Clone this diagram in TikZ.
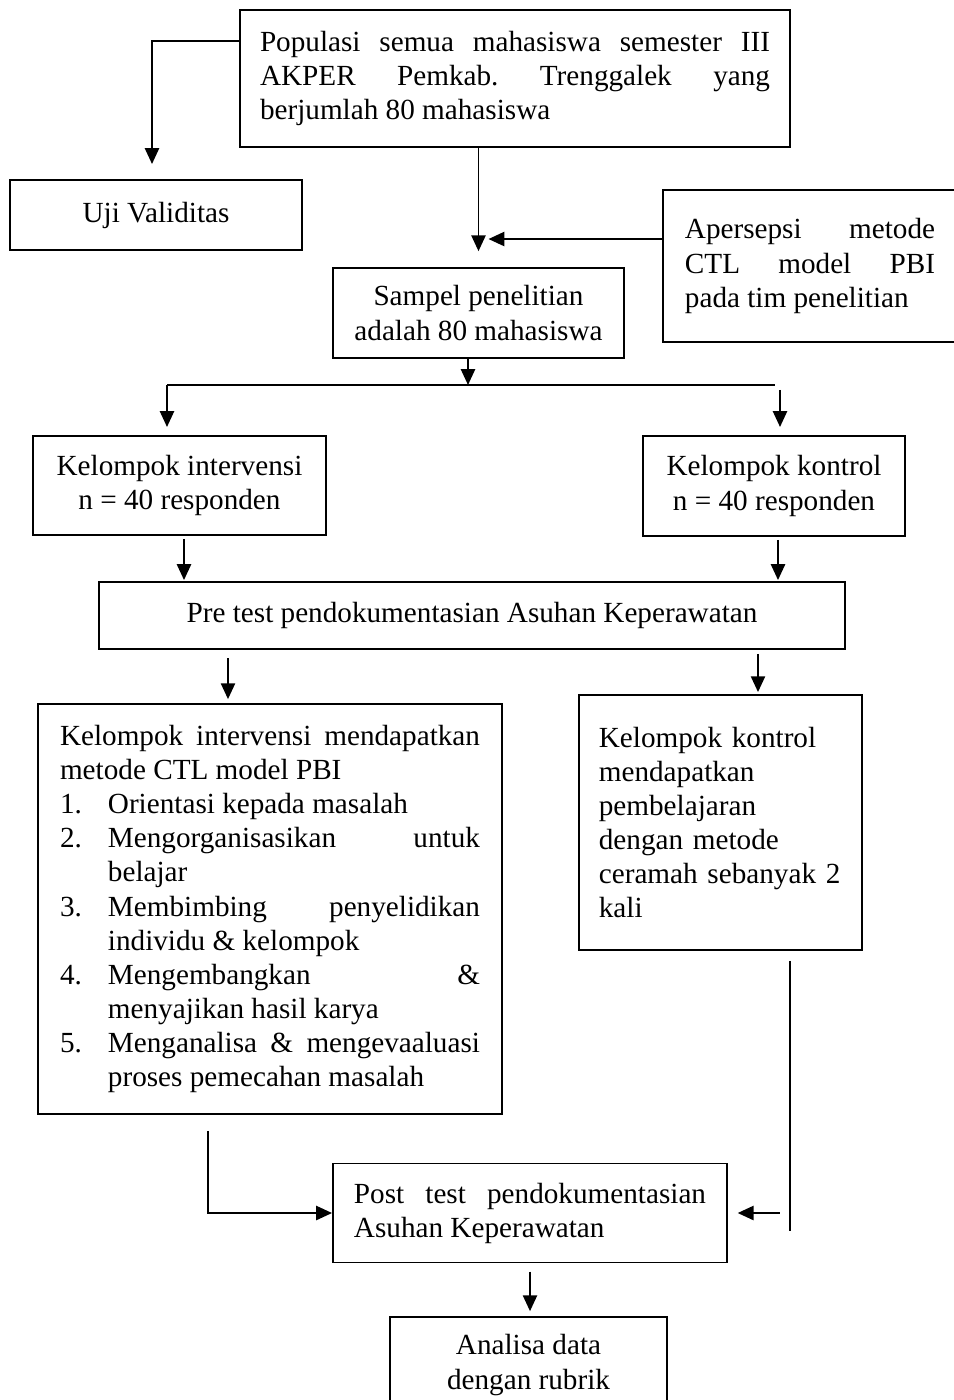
\documentclass[tikz,border=0pt]{standalone}
\usepackage{fontspec}
\setmainfont{Liberation Serif}
\usetikzlibrary{calc}
\usetikzlibrary{arrows.meta}
\frenchspacing
\hyphenpenalty=10000
\exhyphenpenalty=10000
\parindent=0pt

\tikzset{
	box/.style = {draw, line width = 0.8pt, inner sep = 0pt, font = \fontsize{12}{14}\selectfont},
	sz/.style 2 args = {minimum width = #1*0.411pt, minimum height = #2*0.411pt},
	arr/.style = {line width = 0.8pt, -{Triangle[length = 6.5pt, width = 5.8pt]}}
}

\begin{document}
\begin{tikzpicture}[x = 0.411pt, y = -0.411pt]
	\useasboundingbox (0, 0) rectangle (954, 1400);
	\node[box, sz = {550}{137}, text width = 209.6pt, align = justify] (pop) at (515, 78.5)
		{Populasi semua mahasiswa semester III\linebreak AKPER Pemkab. Trenggalek yang\linebreak berjumlah 80 mahasiswa};
	\node[box, sz = {292}{70}] (uji) at (156, 215) {Uji Validitas};
	\node[box, sz = {294}{152}, text width = 102.8pt, align = justify] (aper) at (810, 266)
		{Apersepsi metode\linebreak CTL model PBI\linebreak pada tim penelitian\par\vspace*{11.5pt}};
	\node[box, sz = {291}{90}, align = center] (samp) at (478.5, 313) {Sampel penelitian\\adalah 80 mahasiswa};
	\node[box, sz = {293}{99}, align = center] (ki) at (179.5, 485.5) {Kelompok intervensi\\n = 40 responden};
	\node[box, sz = {262}{100}, align = center] (kk) at (774, 486) {Kelompok kontrol\\n = 40 responden};
	\node[box, sz = {746}{67}] (pre) at (472, 615.5) {Pre test pendokumentasian Asuhan Keperawatan};
	\node[box, sz = {464}{410}, text width = 172.6pt, align = justify] (kI) at (270, 909)
		{Kelompok intervensi mendapatkan\linebreak metode CTL model PBI\par
		\hangindent = 19.7pt\hangafter = 1\makebox[19.7pt][l]{1.}Orientasi kepada masalah\par
		\hangindent = 19.7pt\hangafter = 1\makebox[19.7pt][l]{2.}Mengorganisasikan untuk\linebreak belajar\par
		\hangindent = 19.7pt\hangafter = 1\makebox[19.7pt][l]{3.}Membimbing penyelidikan\linebreak individu \& kelompok\par
		\hangindent = 19.7pt\hangafter = 1\makebox[19.7pt][l]{4.}Mengembangkan \&\linebreak menyajikan hasil karya\par
		\hangindent = 19.7pt\hangafter = 1\makebox[19.7pt][l]{5.}Menganalisa \& mengevaaluasi\linebreak proses pemecahan masalah\par
		\vspace*{10pt}};
	\node[box, sz = {283}{255}, text width = 100pt, align = left] (kK) at (720.5, 822.5)
		{Kelompok kontrol\\mendapatkan\\pembelajaran\\dengan metode\\ceramah sebanyak 2\\kali\par\vspace*{10pt}};
	\node[box, sz = {394}{99}, text width = 144.7pt, align = justify] (post) at (530, 1213)
		{Post test pendokumentasian\linebreak Asuhan Keperawatan};
	\node[box, sz = {277}{96}, align = center] (ana) at (528.5, 1365) {Analisa data\\dengan rubrik};
	\coordinate (meet) at ($(samp.north) + (10, -28)$);
	\coordinate (busL) at (167, 385);
	\coordinate (busM) at (468, 385);
	\coordinate (busR) at (775, 385);
	\coordinate (kkTop) at (780, 390);
	\coordinate (c0) at (184, 0);
	\coordinate (c5) at (778, 0);
	\coordinate (c1) at (228, 0);
	\coordinate (c2) at (758, 0);
	\coordinate (c3) at (208, 0);
	\coordinate (c4) at (790, 0);
	\draw[arr] ($(pop.north west) + (0, 32)$) -| ($(uji.north) + (-4, -15)$);
	\draw[arr, shorten >= 6.5pt] (samp.north |- pop.south) -- (samp.north);
	\draw[arr] ($(aper.north west) + (0, 50)$) -- (meet);
	\draw[line width = 0.8pt] (busL) -- (busR);
	\draw[arr] (busM |- samp.south) -- (busM);
	\draw[arr, shorten >= 3.3pt] (busL) -- (busL |- ki.north);
	\draw[arr, shorten >= 3.3pt] (kkTop) -- (kkTop |- kk.north);
	\draw[arr, shorten <= 1.2pt, shorten >= 0.4pt] (ki.south -| c0) -- (pre.north -| c0);
	\draw[arr, shorten <= 1.2pt, shorten >= 0.4pt] (kk.south -| c5) -- (pre.north -| c5);
	\draw[arr, shorten <= 3.3pt, shorten >= 1.6pt] (pre.south -| c1) -- (kI.north -| c1);
	\draw[arr, shorten <= 1.6pt, shorten >= 0.8pt] (pre.south -| c2) -- (kK.north -| c2);
	\draw[arr] ($(kI.south -| c3) + (0, 16)$) |- (post.west);
	\draw[line width = 0.7pt] ($(kK.south -| c4) + (0, 10)$) -- ++(0, 270);
	\draw[arr, shorten >= 4pt] ($(post.east) + (52, 0)$) -- (post.east);
	\draw[arr, shorten <= 3.3pt, shorten >= 2pt] (post.south) -- (post.south |- ana.north);
\end{tikzpicture}
\end{document}
